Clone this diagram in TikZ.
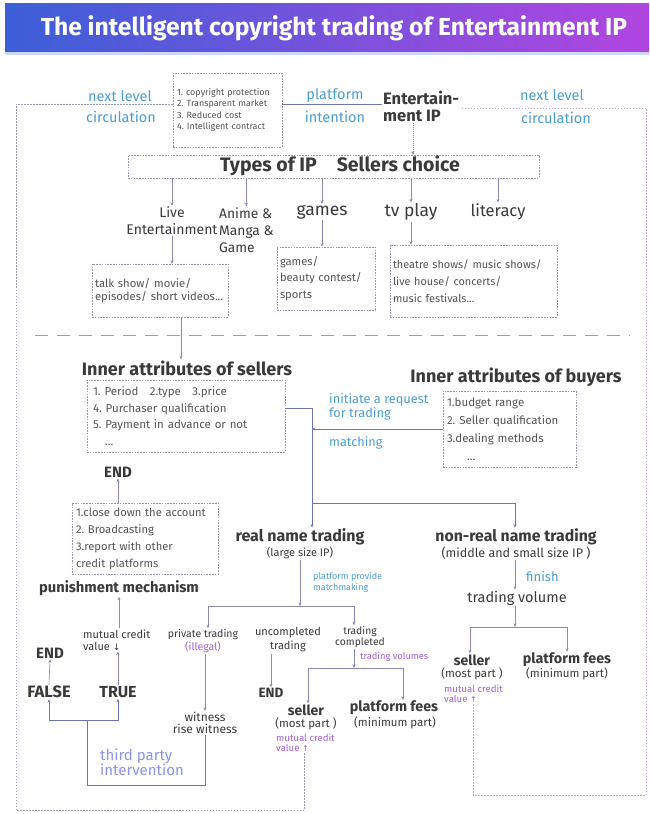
\documentclass[tikz,border=0pt]{standalone}
\usepackage{fontspec}
\setmainfont{Fira Sans}
\newfontfamily\symfont{DejaVu Sans}
\usetikzlibrary{arrows.meta}
\newcommand{\myfs}[2]{\fontsize{#1pt}{#2pt}\selectfont}
\frenchspacing
\definecolor{tdark}{HTML}{3A3A3A}
\definecolor{tgray}{HTML}{555555}
\definecolor{tblue}{HTML}{4A9FD4}
\definecolor{tpurp}{HTML}{A060D8}
\definecolor{tperi}{HTML}{8D93E8}
\definecolor{lgray}{HTML}{8C88B4}
\definecolor{bgray}{HTML}{9A9AB5}
\definecolor{lblue}{HTML}{7075B5}
\definecolor{lpink}{HTML}{C9A4D8}
\definecolor{divc}{HTML}{8C9CE0}
\definecolor{titL}{HTML}{3B5FD8}
\definecolor{titR}{HTML}{B245E0}
\tikzset{
  lbl/.style={inner sep=1pt, text=tdark, align=center},
  blu/.style={inner sep=1pt, text=tblue, align=left},
  pur/.style={inner sep=1pt, text=tpurp, align=left},
  dbox/.style={draw=bgray, dash pattern=on 1.6pt off 1.2pt, line width=0.6pt, inner sep=0pt, text=tgray},
  arr/.style={draw=lgray, line width=0.6pt, -{Stealth[length=3.5pt,width=3pt]}},
  arrdot/.style={arr, dash pattern=on 1pt off 1pt},
  ln/.style={draw=lgray, line width=0.6pt},
  lnb/.style={draw=lblue, line width=0.8pt},
  arrb/.style={lnb, -{Stealth[length=3.5pt,width=3pt]}},
  loopL/.style={draw=bgray, line width=0.8pt, dash pattern=on 1.5pt off 1.5pt},
  loopR/.style={draw=lpink, line width=0.8pt, dash pattern=on 1.5pt off 1.5pt},
  tp/.style={draw=lblue, line width=0.9pt},
  tparr/.style={tp, -{Stealth[length=3.5pt,width=3pt]}},
}
\begin{document}
\begin{tikzpicture}[x=1pt,y=-1pt]
\useasboundingbox (0,0) rectangle (649,814);
\fill[white] (0,0) rectangle (649,814);
% title band
\shade[left color=titL, right color=titR] (5,3) rectangle (649,52);
\fill[color=titL!25] (5,52) rectangle (649,55);
\node[inner sep=0pt, text=white, font=\bfseries\myfs{24.6}{26}] (title) at (334,28) {The intelligent copyright trading of Entertainment IP};

% coordinates
\coordinate (cTL) at (16,104);
\coordinate (cBL) at (16,810);
\coordinate (cTR) at (646,108);
\coordinate (cBR) at (646,795);
\coordinate (eipx) at (413,0);
\coordinate (st181) at (181,0);
\coordinate (s2x) at (304,0);
\coordinate (s3x) at (473,0);

% top part
\node[dbox, minimum width=109pt, minimum height=74pt, text width=101pt, align=left, font=\myfs{9}{11.5}] (feat) at (227.5,110) {1. copyright protection\\2. Transparent market\\3. Reduced cost\\4. Intelligent contract};
\node[blu, font=\myfs{14.5}{15}] (nl1) at (120,96) {next level};
\node[blu, font=\myfs{14.5}{15}] (nl2) at (121,117) {circulation};
\node[blu, font=\myfs{14.5}{15}] (pi1) at (335,96) {platform};
\node[blu, font=\myfs{14.5}{15}] (pi2) at (335,117) {intention};
\node[lbl, align=left, anchor=west, font=\bfseries\myfs{16.5}{17}] (eip) at (382,106) {Entertain-\\ment IP};
\node[blu, font=\myfs{14.5}{15}] (nr1) at (552,95) {next level};
\node[blu, font=\myfs{14.5}{15}] (nr2) at (556,118) {circulation};
\draw[lnb] (feat.east |- cTL) -- (eip.west |- cTL);

\node[dbox, text=tdark, minimum width=411pt, minimum height=23pt, text height=13pt, text depth=4pt, font=\bfseries\myfs{19.5}{20}] (types) at (333.5,166.5) {\hspace*{13pt}Types of IP\hspace{20pt}Sellers choice};
\draw[arrdot] (eip.south -| eipx) -- (types.north -| eipx);

\node[lbl, font=\myfs{14}{17}] (live) at (172,221) {Live\\Entertainment};
\node[lbl, align=left, anchor=west, font=\myfs{13.8}{17}] (anime) at (218,230) {Anime \&\\Manga \&\\Game};
\node[lbl, font=\myfs{17.5}{18}] (games) at (322,212) {games};
\node[lbl, font=\myfs{17.5}{18}] (tvplay) at (411,212) {tv play};
\node[lbl, font=\myfs{16.5}{18}] (lit) at (498,212) {literacy};
\foreach \n in {live,anime,games,tvplay,lit}{
  \draw[arr] (types.south -| \n.north) -- (\n.north);
}

\node[dbox, minimum width=136pt, minimum height=53pt, text width=130pt, align=left, font=\myfs{11.3}{13}] (b1) at (160,290.5) {talk show/ movie/\\episodes/ short videos...};
\node[dbox, minimum width=98pt, minimum height=63pt, text width=92pt, align=left, font=\myfs{11.2}{16.5}] (b2) at (326,278.5) {games/\\beauty contest/\\sports};
\node[dbox, minimum width=167pt, minimum height=72pt, text width=161pt, align=left, font=\myfs{10.9}{17}] (b3) at (473.5,281) {theatre shows/ music shows/\\live house/ concerts/\\music festivals...};
\draw[arr] (live.south) -- (b1.north -| live.south);
\draw[arr] (games.south) -- (b2.north -| games.south);
\draw[arr] (tvplay.south) -- (b3.north -| tvplay.south);

% divider
\draw[divc, line width=1pt, dash pattern=on 13pt off 9pt] (35,335) -- (630,335);

% sellers / buyers
\node[lbl, font=\bfseries\myfs{18}{20}] (st) at (187,368) {Inner attributes of sellers};
\draw[arr] (b1.south -| st181) -- (st.north -| st181);
\node[dbox, minimum width=198pt, minimum height=72pt, text width=186pt, align=left, font=\myfs{11.5}{16.5}] (sb) at (186,416) {1. Period\quad 2.type\quad 3.price\\4. Purchaser qualification\\5. Payment in advance or not\\\hspace*{12pt}...};
\node[lbl, font=\bfseries\myfs{18}{20}] (bt) at (516,377) {Inner attributes of buyers};
\node[dbox, minimum width=133pt, minimum height=76pt, text width=125pt, align=left, font=\myfs{11.5}{18}] (bb) at (509.5,429) {1.budget range\\2. Seller qualification\\3.dealing methods\\\hspace*{20pt}...};

\coordinate (J1) at (312,408);
\coordinate (J2) at (312,503);
\coordinate (J3) at (515,503);
\node[lbl, font=\bfseries\myfs{16}{17}] (rn) at (300,537) {real name trading};
\node[lbl, font=\myfs{11}{12}] (rnp) at (300,553) {(large size IP)};
\node[lbl, font=\bfseries\myfs{15.8}{17}] (nrn) at (516,537) {non-real name trading};
\node[lbl, font=\myfs{12.5}{13}] (nrnp) at (516,553) {(middle and small size IP )};
\draw[lnb] (sb.east |- J1) -- (J1) -- (J2) -- (J3);
\draw[arrb] (J2) -- (J2 |- rn.north);
\draw[arrb] (J3) -- (J3 |- nrn.north);
\draw[arrb] (bb.west) -- (bb.west -| J1);
\node[blu, anchor=west, font=\myfs{12.8}{14}] (req) at (328,407) {initiate a request\\for trading};
\node[blu, anchor=west, font=\myfs{12.7}{13}] (match) at (328,443) {matching};

% punishment
\node[lbl, font=\bfseries\myfs{15}{16}] (end1) at (118,472) {END};
\node[dbox, minimum width=146pt, minimum height=71pt, text width=138pt, align=left, font=\myfs{11.2}{17}] (pb) at (145,538.5) {1.close down the account\\2. Broadcasting\\3.report with other\\credit platforms};
\draw[arr] (pb.north -| end1.south) -- (end1.south);
\node[lbl, font=\bfseries\myfs{14.7}{16}] (pm) at (119,588) {punishment mechanism};
\node[lbl, align=left, anchor=west, font=\myfs{11}{12}] (mcv1) at (82,640) {mutual credit\\value {\symfont\myfs{9}{12}↓}};
\draw[arr] (mcv1.north -| pm.south) -- (pm.south);
\node[lbl, font=\bfseries\myfs{16}{17}] (true) at (118,692) {TRUE};
\node[lbl, font=\bfseries\myfs{16.5}{17}] (false) at (49,692) {FALSE};
\node[lbl, font=\bfseries\myfs{15}{16}] (end2) at (50,653) {END};
\draw[arr] (true.north) -- (true.north |- mcv1.south);
\draw[arr] (false.north) -- (end2.south);

% real name branch
\coordinate (J4) at (300,606);
\coordinate (J4a) at (208,606);
\coordinate (J4b) at (354,606);
\node[blu, anchor=west, font=\myfs{9}{11}] (ppm) at (312,582.5) {platform provide\\matchmaking};
\node[lbl, font=\myfs{10.5}{13}] (pt) at (203,641) {private trading\\\textcolor{tpurp}{(illegal)}};
\node[lbl, font=\myfs{11}{14}] (unc) at (288,640) {uncompleted\\trading};
\node[lbl, font=\myfs{10.3}{11}] (tc) at (360,637) {trading\\completed};
\draw[arr] (rnp.south -| J4) -- (J4);
\draw[ln] (J4a) -- (J4b);
\draw[arr] (J4a) -- (J4a |- pt.north);
\draw[arr] (J4b) -- (J4b |- tc.north);

\node[lbl, font=\myfs{12}{12}] (wit) at (205,723) {witness\\rise witness};
\draw[arr] (pt.south -| wit.north) -- (wit.north);
\node[lbl, font=\bfseries\myfs{13.5}{15}] (end3) at (271,693) {END};
\draw[arr] (unc.south -| end3.north) -- (end3.north);

% third party
\coordinate (tpj) at (87,720);
\coordinate (tpb) at (87,785);
\draw[tp] (wit.south) -- (wit.south |- tpb) -- (tpb) -- (tpj);
\draw[tparr] (tpj) -| (false.south);
\draw[tparr] (tpj) -| (true.south);
\node[inner sep=1pt, text=tperi, align=left, anchor=west, font=\myfs{15}{15}] (tpl) at (99,762) {third party\\intervention};

% trading completed split
\coordinate (J5) at (354,668);
\coordinate (J5a) at (308,668);
\coordinate (J5b) at (403,668);
\node[pur, anchor=west, font=\myfs{9.3}{10}] (tvs) at (359,657) {trading volumes};
\node[lbl, font=\bfseries\myfs{14}{15}] (s2) at (306,710) {seller};
\node[lbl, font=\myfs{11.5}{12}] (s2p) at (306,724) {(most part )};
\node[pur, anchor=west, font=\myfs{9.6}{10}] (mcv2) at (275,743) {mutual credit\\value {\symfont\myfs{8}{10}↑}};
\node[lbl, font=\bfseries\myfs{14.3}{15}] (pf2) at (394,708) {platform fees};
\node[lbl, font=\myfs{11.5}{12}] (pf2p) at (395,723) {(minimum part)};
\draw[arr] (tc.south -| J5) -- (J5);
\draw[ln] (J5a) -- (J5b);
\draw[arr] (J5a) -- (J5a |- s2.north);
\draw[arr] (J5b) -- (J5b |- pf2.north);

% non-real branch
\node[blu, anchor=west, font=\myfs{13}{14}] (fin) at (525,577) {finish};
\node[lbl, font=\myfs{14.5}{15}] (tv) at (517,598) {trading volume};
\draw[arr] (nrnp.south -| J3) -- (tv.north -| J3);
\coordinate (J6) at (515,627);
\coordinate (J6a) at (470,627);
\coordinate (J6b) at (567,627);
\node[lbl, font=\bfseries\myfs{14}{15}] (s3) at (472,660) {seller};
\node[lbl, font=\myfs{11.5}{12}] (s3p) at (472,674) {(most part )};
\node[pur, anchor=west, font=\myfs{9.6}{10}] (mcv3) at (443,694) {mutual credit\\value {\symfont\myfs{8}{10}↑}};
\node[lbl, font=\bfseries\myfs{14.3}{15}] (pf3) at (567,660) {platform fees};
\node[lbl, font=\myfs{11.5}{12}] (pf3p) at (567,674) {(minimum part)};
\draw[arr] (tv.south -| J6) -- (J6);
\draw[ln] (J6a) -- (J6b);
\draw[arr] (J6a) -- (J6a |- s3.north);
\draw[arr] (J6b) -- (J6b |- pf3.north);

% circulation loops
\draw[loopL] (mcv2.south -| s2x) -- (s2x |- cBL) -- (cBL) -- (cTL) -- (feat.west |- cTL);
\draw[loopR] (mcv3.south -| s3x) -- (s3x |- cBR) -- (cBR) -- (cTR) -- (eip.east |- cTR);
\end{tikzpicture}
\end{document}
